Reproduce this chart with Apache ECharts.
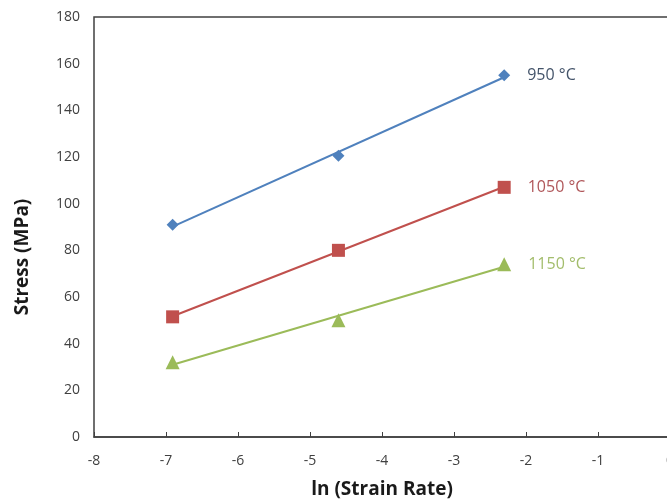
<!DOCTYPE html>
<html>
<head>
<meta charset="utf-8">
<script src="https://cdn.jsdelivr.net/npm/echarts@6/dist/echarts.min.js"></script>
<style>
  html, body { margin: 0; padding: 0; background: #fff; }
  #chart { width: 667px; height: 502px; }
</style>
</head>
<body>
<div id="chart"></div>
<script>
// ln of strain rates 0.001, 0.01, 0.1 s^-1
const strainRateLn = [-6.908, -4.605, -2.303];
const stress950 = [91, 120.5, 155];
const stress1050 = [51.5, 80, 107];
const stress1150 = [32, 50, 74];
const seriesNames = ['950 °C', '1050 °C', '1150 °C'];
const xTicks = [-8, -7, -6, -5, -4, -3, -2, -1, 0];
const yTicks = [0, 20, 40, 60, 80, 100, 120, 140, 160, 180];

const colors = ['#4F81BD', '#C0504D', '#9BBB59'];
const labelColors = ['#44546A', '#B0575A', '#A3BD6C'];
const symbols = ['diamond', 'rect', 'triangle'];
const symbolSizes = [12, 13, 14];

// least-squares straight line through a set of points
function linearFit(xs, ys) {
  const n = xs.length;
  const mx = xs.reduce((a, b) => a + b, 0) / n;
  const my = ys.reduce((a, b) => a + b, 0) / n;
  let sxy = 0, sxx = 0;
  for (let i = 0; i < n; i++) {
    sxy += (xs[i] - mx) * (ys[i] - my);
    sxx += (xs[i] - mx) * (xs[i] - mx);
  }
  const k = sxy / sxx;
  return x => my + k * (x - mx);
}

const allStress = [stress950, stress1050, stress1150];
const series = [];
allStress.forEach((ys, i) => {
  const f = linearFit(strainRateLn, ys);
  const x0 = strainRateLn[0], x1 = strainRateLn[strainRateLn.length - 1];
  series.push({
    type: 'line',
    name: seriesNames[i] + ' fit',
    data: [[x0, f(x0)], [x1, f(x1)]],
    showSymbol: false,
    symbol: 'none',
    lineStyle: { color: colors[i], width: 2 },
    z: 2,
    silent: true
  });
  series.push({
    type: 'scatter',
    name: seriesNames[i],
    data: strainRateLn.map((x, j) => {
      const d = { value: [x, ys[j]] };
      if (j === strainRateLn.length - 1) {
        d.label = {
          show: true,
          position: 'right',
          distance: 17,
          formatter: seriesNames[i],
          color: labelColors[i],
          fontSize: 16,
          fontFamily: 'Open Sans'
        };
      }
      return d;
    }),
    symbol: symbols[i],
    symbolSize: symbolSizes[i],
    itemStyle: { color: colors[i], opacity: 1 },
    z: 3
  });
});

const chart = echarts.init(document.getElementById('chart'), null, { renderer: 'canvas' });
chart.setOption({
  animation: false,
  backgroundColor: '#fff',
  grid: {
    left: 94, top: 17, width: 576, height: 420,
    show: true, borderColor: '#404040', borderWidth: 1.5,
    containLabel: false, outerBoundsMode: 'none'
  },
  xAxis: {
    type: 'value',
    min: xTicks[0],
    max: xTicks[xTicks.length - 1],
    interval: 1,
    name: 'ln (Strain Rate)',
    nameLocation: 'middle',
    nameGap: 43,
    nameTextStyle: { fontSize: 19, fontWeight: 'bold', color: '#1a1a1a', fontFamily: 'Open Sans' },
    axisLine: { show: true, onZero: false, lineStyle: { color: '#404040', width: 1.5 } },
    axisTick: { show: true, inside: true, length: 5, lineStyle: { color: '#404040' } },
    axisLabel: { color: '#404040', fontSize: 14, margin: 17, fontFamily: 'Open Sans' },
    splitLine: { show: false }
  },
  yAxis: {
    type: 'value',
    min: yTicks[0],
    max: yTicks[yTicks.length - 1],
    interval: 20,
    name: 'Stress (MPa)',
    nameLocation: 'middle',
    nameGap: 62,
    nameTextStyle: { fontSize: 19, fontWeight: 'bold', color: '#1a1a1a', fontFamily: 'Open Sans', padding: [0, 60, 0, 0] },
    axisLine: { show: true, lineStyle: { color: '#404040', width: 1.5 } },
    axisTick: { show: false },
    axisLabel: { color: '#404040', fontSize: 14, margin: 14, fontFamily: 'Open Sans' },
    splitLine: { show: false }
  },
  series: series
});
</script>
</body>
</html>
